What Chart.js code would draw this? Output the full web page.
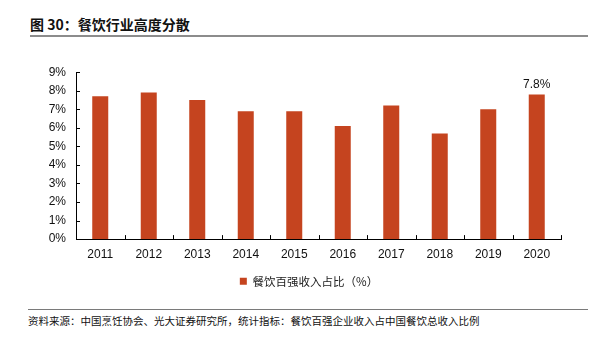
<!DOCTYPE html>
<html>
  <head>
    <script src="https://cdn.jsdelivr.net/npm/chart.js@4/dist/chart.umd.min.js"></script>
    <style>
      body { margin: 0; width: 593px; height: 340px; background: #fff; position: relative; overflow: hidden; }
      #title { position: absolute; left: 30px; top: 14px; font: bold 14px "Noto Sans CJK SC", sans-serif; color: #111; }
      #topline { position: absolute; left: 30px; top: 35px; width: 558px; height: 2px; background: #8c8c8c; }
      #botline { position: absolute; left: 28px; top: 309px; width: 560px; height: 1px; background: #7a7a7a; }
      #source { position: absolute; left: 28px; top: 313px; font: 10.5px "Noto Sans CJK SC", sans-serif; color: #111; }
      #wrap { position: absolute; left: 0; top: 55px; width: 593px; height: 248px; }
    </style>
  </head>

  <body>
    <div id="title">图 30：餐饮行业高度分散</div>
    <div id="topline"></div>
    <div id="wrap"><canvas id="canvas"></canvas></div>
    <div id="botline"></div>
    <div id="source">资料来源：中国烹饪协会、光大证券研究所，统计指标：餐饮百强企业收入占中国餐饮总收入比例</div>
    <script>
      const years = ['2011', '2012', '2013', '2014', '2015', '2016', '2017', '2018', '2019', '2020'];
      const share = [7.7, 7.9, 7.5, 6.9, 6.9, 6.1, 7.2, 5.7, 7.0, 7.8];
      const yTicks = [0, 1, 2, 3, 4, 5, 6, 7, 8, 9];
      const labelledIndex = [9];

      // ticks drawn inward, like the source chart
      const innerTicks = {
        id: 'innerTicks',
        afterDraw(chart) {
          const ctx = chart.ctx;
          const x = chart.scales.x, y = chart.scales.y;
          ctx.save();
          ctx.strokeStyle = '#000';
          ctx.lineWidth = 1;
          ctx.beginPath();
          yTicks.forEach((v) => {
            const py = Math.round(y.getPixelForValue(v)) + 0.5;
            ctx.moveTo(x.left, py);
            ctx.lineTo(x.left + 4, py);
          });
          const step = (x.right - x.left) / years.length;
          for (let i = 1; i <= years.length; i++) {
            const px = Math.round(x.left + step * i) + 0.5;
            ctx.moveTo(px, y.bottom);
            ctx.lineTo(px, y.bottom - 4);
          }
          ctx.stroke();
          // value label
          ctx.fillStyle = '#111';
          ctx.font = '12px "Liberation Sans", Arial, sans-serif';
          ctx.textAlign = 'center';
          ctx.textBaseline = 'bottom';
          const meta = chart.getDatasetMeta(0);
          labelledIndex.forEach((i) => {
            const bar = meta.data[i];
            ctx.fillText(share[i].toFixed(1) + '%', bar.x, bar.y - 4);
          });
          ctx.restore();
        },
      };

      new Chart(document.getElementById('canvas'), {
        type: 'bar',
        data: {
          labels: years,
          datasets: [
            {
              label: '餐饮百强收入占比（%）',
              data: share,
              backgroundColor: '#c5441f',
              categoryPercentage: 1,
              barPercentage: 0.33,
            },
          ],
        },
        options: {
          responsive: true,
          maintainAspectRatio: false,
          animation: false,
          layout: { padding: { left: 25, right: 0, top: 10, bottom: 6 } },
          plugins: {
            legend: {
              position: 'bottom',
              labels: {
                boxWidth: 7,
                boxHeight: 7,
                padding: 6,
                color: '#222',
                font: { family: '"Noto Sans CJK SC", sans-serif', size: 11.5 },
              },
            },
            tooltip: { enabled: false },
          },
          scales: {
            x: {
              grid: { display: false, drawTicks: false },
              border: { display: true, color: '#000', width: 1 },
              ticks: { color: '#111', padding: 8, font: { family: '"Liberation Sans", Arial, sans-serif', size: 12 } },
            },
            y: {
              min: 0,
              max: 9,
              afterFit: (s) => { s.width = 51; },
              grid: { display: false, drawTicks: false },
              border: { display: true, color: '#000', width: 1 },
              ticks: {
                stepSize: 1,
                padding: 10,
                color: '#111',
                font: { family: '"Liberation Sans", Arial, sans-serif', size: 12 },
                callback: (v) => v + '%',
              },
            },
            // empty right axis, only keeps room on the right of the plot
            y2: {
              position: 'right',
              display: true,
              afterFit: (s) => { s.width = 32; },
              grid: { display: false, drawTicks: false },
              border: { display: false },
              ticks: { display: false },
            },
          },
        },
        plugins: [innerTicks],
      });
    </script>
  </body>
</html>
